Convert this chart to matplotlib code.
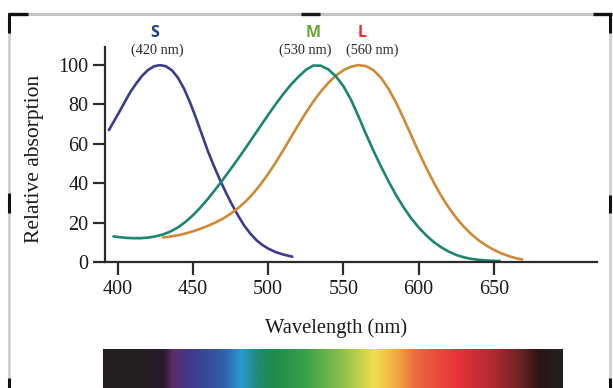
import numpy as np
import matplotlib
matplotlib.use("Agg")
import matplotlib.pyplot as plt
from matplotlib.lines import Line2D
from matplotlib.colors import LinearSegmentedColormap

# ---------------- data ----------------
s_wl = [394, 397, 400, 404, 408, 412, 416, 420, 424, 428, 432, 436, 440, 444, 448,
        452, 456, 460, 464, 468, 472, 476, 480, 484, 488, 492, 496, 500, 505, 510, 516]
s_abs = [67, 71, 75, 80.5, 86, 90.5, 94.5, 97.5, 99.4, 100, 99.4, 97.3, 93.5, 88, 81,
         73, 64.5, 56, 48.5, 41.5, 35, 29, 23.5, 18.5, 14.5, 11.2, 8.7, 6.8, 5, 3.8, 2.7]

m_wl = [397, 400, 405, 410, 415, 420, 425, 430, 435, 440, 445, 450, 455, 460, 465,
        470, 475, 480, 485, 490, 495, 500, 505, 510, 515, 520, 525, 530, 535, 540,
        545, 550, 555, 560, 565, 570, 575, 580, 585, 590, 595, 600, 605, 610, 615,
        620, 625, 630, 635, 640, 645, 650, 654]
m_abs = [13, 12.7, 12.3, 12.1, 12.1, 12.4, 13, 14, 15.5, 17.6, 20.4, 23.8, 27.8, 32.2, 37,
         42, 47.2, 52.5, 58, 63.6, 69.2, 74.8, 80.2, 85.3, 90, 94, 97.6, 99.8, 99.7, 97.8,
         94.3, 89.3, 82.5, 74, 65, 56.5, 48.5, 41, 34, 27.8, 22.3, 17.6, 13.6, 10.2, 7.5,
         5.3, 3.6, 2.4, 1.6, 1.1, 0.8, 0.6, 0.5]

l_wl = [430, 435, 440, 445, 450, 455, 460, 465, 470, 475, 480, 485, 490, 495, 500,
        505, 510, 515, 520, 525, 530, 535, 540, 545, 550, 555, 560, 565, 570, 575,
        580, 585, 590, 595, 600, 605, 610, 615, 620, 625, 630, 635, 640, 645, 650,
        655, 660, 665, 669]
l_abs = [12.5, 12.9, 13.6, 14.5, 15.6, 16.9, 18.4, 20.1, 22.1, 24.5, 27.4, 30.8, 34.8, 39.5, 44.8,
         50.6, 56.8, 63.2, 69.6, 75.8, 81.5, 86.6, 91, 94.7, 97.4, 99.2, 100, 99.5, 97.4, 93.6,
         88, 81, 73, 64.5, 56, 48, 40.5, 33.7, 27.7, 22.5, 18, 14.2, 11, 8.4, 6.2,
         4.4, 3, 1.9, 1.3]

x_ticks = [400, 450, 500, 550, 600, 650]
y_ticks = [0, 20, 40, 60, 80, 100]
cone_names = ["S", "M", "L"]
cone_peaks = ["(420 nm)", "(530 nm)", "(560 nm)"]

# ---------------- figure ----------------
W, H = 613, 388
fig = plt.figure(figsize=(W / 100, H / 100), dpi=100)
fig.patch.set_facecolor("white")

def fx(x):
    return x / W

def fy(y):
    return 1 - y / H

serif = ["Liberation Serif", "DejaVu Serif"]

ax = fig.add_axes([fx(105), fy(262), (597 - 105) / W, (262 - 47) / H])
ax.set_xlim(391.4, 718.7)
ax.set_ylim(0, 109.2)

line_w = 1.9
ax.plot(s_wl, s_abs, color="#3d3b8e", lw=line_w, solid_capstyle="round", solid_joinstyle="round")
ax.plot(l_wl, l_abs, color="#d08a35", lw=line_w, solid_capstyle="round", solid_joinstyle="round")
ax.plot(m_wl, m_abs, color="#1c8570", lw=line_w, solid_capstyle="round", solid_joinstyle="round")

for side in ("top", "right"):
    ax.spines[side].set_visible(False)
for side in ("left", "bottom"):
    ax.spines[side].set_color("#2b2b2b")
    ax.spines[side].set_linewidth(1.6)

ax.set_xticks(x_ticks)
ax.set_yticks(y_ticks)
ax.tick_params(axis="both", direction="out", length=9, width=1.6, color="#2b2b2b",
               labelsize=14.5)
ax.tick_params(axis="x", pad=4)
ax.tick_params(axis="y", pad=3)
for lab in ax.get_xticklabels() + ax.get_yticklabels():
    lab.set_fontfamily(serif)
    lab.set_color("#1a1a1a")

ax.set_xlabel("Wavelength (nm)", fontsize=14.8, family=serif, color="#1a1a1a")
ax.set_ylabel("Relative absorption", fontsize=15.5, family=serif, color="#1a1a1a")
ax.xaxis.set_label_coords((336 - 105) / 492, -(328 - 262) / 215, transform=ax.transAxes)
ax.yaxis.set_label_coords(-(105 - 35) / 492, (262 - 159) / 215, transform=ax.transAxes)
ax.xaxis.label.set_va("center")
ax.yaxis.label.set_va("center")

# cone labels
name_colors = ["#1f3c84", "#6aa636", "#e8322a"]
name_x = [424.6, 529.7, 562.3]
peak_x = [426.0, 524.4, 569.0]
for nm, pk, c, xn, xp in zip(cone_names, cone_peaks, name_colors, name_x, peak_x):
    ax.text(xn, 116.5, nm, color=c, fontsize=11.5, fontweight="bold", family="Open Sans",
            ha="center", va="center", clip_on=False)
    ax.text(xp, 107.3, pk, color="#2a2a2a", fontsize=10.3, family=serif,
            ha="center", va="center", clip_on=False)

# spectrum bar
spec_colors = ["#231f20", "#231f20", "#2a1a2c", "#5a2d6a", "#3d3a8c", "#2f5ea8",
               "#2a9ad0", "#1f8a6a", "#1f8a4c", "#3aa04a", "#8cc04a", "#f0e050",
               "#f2a840", "#ea6a40", "#e8323a", "#b02a32", "#6a2222", "#2a1616", "#231f20"]
spec_pos = [0.0, 0.08, 0.13, 0.15, 0.19, 0.26, 0.30, 0.34, 0.37, 0.44, 0.52, 0.59,
            0.64, 0.68, 0.77, 0.85, 0.91, 0.95, 1.0]
cmap = LinearSegmentedColormap.from_list("spec", list(zip(spec_pos, spec_colors)))
sax = fig.add_axes([fx(103), 0, (563 - 103) / W, (388 - 349) / H])
sax.imshow(np.linspace(0, 1, 512)[None, :], aspect="auto", cmap=cmap, extent=[0, 1, 0, 1])
sax.set_axis_off()

# screenshot frame decorations
def seg(x0, y0, x1, y1, color, lw):
    fig.add_artist(Line2D([fx(x0), fx(x1)], [fy(y0), fy(y1)], color=color, lw=lw,
                          transform=fig.transFigure, solid_capstyle="butt"))

seg(8, 14, 610, 14, "#c4c4c4", 2.2)
seg(9, 14, 9, 388, "#cfcfcf", 2.0)
seg(610, 14, 610, 388, "#cfcfcf", 2.0)
seg(8, 14, 28, 14, "#111111", 2.4)
seg(9, 13, 9, 33, "#111111", 2.2)
seg(593, 14, 612, 14, "#111111", 2.4)
seg(610, 13, 610, 33, "#111111", 2.2)
seg(301, 14, 320, 14, "#1a1a1a", 2.4)
seg(9, 193, 9, 213, "#111111", 2.2)
seg(610, 195, 610, 213, "#111111", 2.2)
seg(9, 378, 9, 388, "#111111", 2.2)
seg(610, 378, 610, 388, "#111111", 2.2)

fig.savefig("out.png", dpi=100, facecolor="white")
